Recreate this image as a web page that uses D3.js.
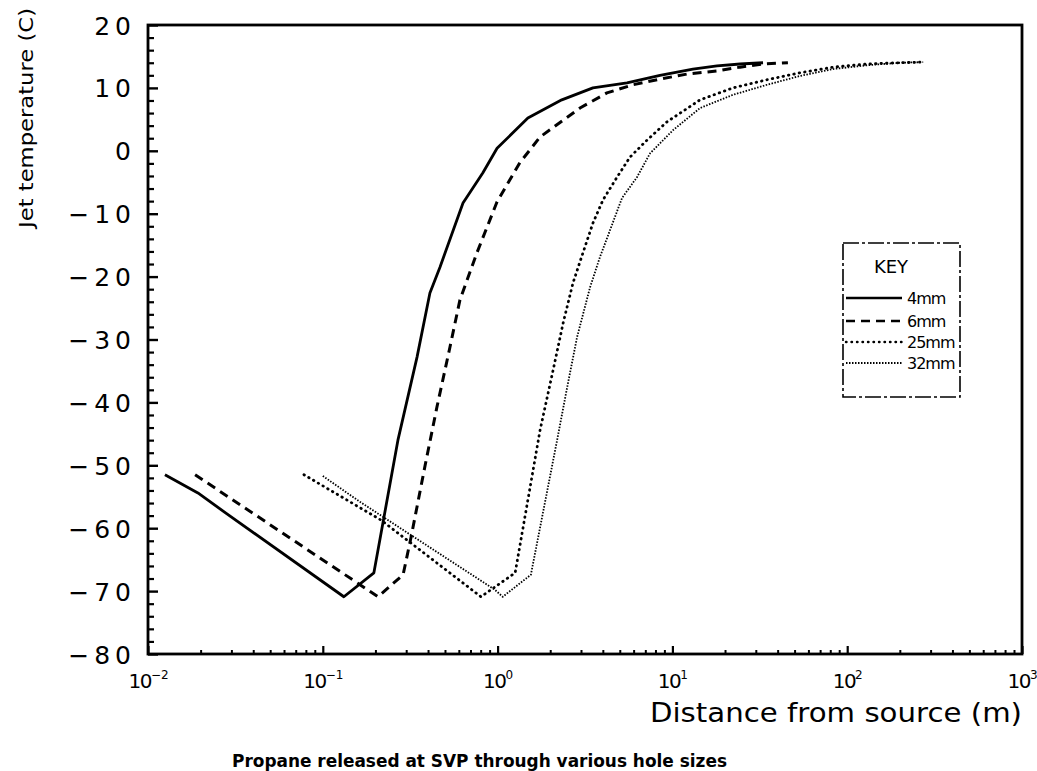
<!DOCTYPE html>
<html>
<head>
<meta charset="utf-8">
<script src="https://cdn.jsdelivr.net/npm/d3@7"></script>
<style>
  html, body { margin: 0; padding: 0; background: #fff; }
  svg { display: block; }
  text { fill: #000; font-family: "DejaVu Sans", sans-serif; }
</style>
</head>
<body>
<svg id="chart" width="1037" height="771"></svg>
<script>
// Jet temperature along the jet axis for propane at SVP, four hole sizes
const tempTicks = [20, 10, 0, -10, -20, -30, -40, -50, -60, -70, -80];
const distTicks = [0.01, 0.1, 1, 10, 100, 1000];
const distTickExponents = ["\u22122", "\u22121", "0", "1", "2", "3"];
const seriesNames = ["4mm", "6mm", "25mm", "32mm"];

const dist4mm = [0.0125, 0.0193, 0.0279, 0.132, 0.196, 0.269, 0.346, 0.410, 0.468, 0.634, 0.824, 0.993, 1.49, 2.33, 3.51, 5.50, 8.49, 13.1, 18.0, 24.4, 33.0];
const temp4mm = [-51.5, -54.4, -57.6, -70.9, -67.1, -46.0, -32.8, -22.6, -18.5, -8.3, -3.5, 0.4, 5.2, 8.1, 10.0, 10.8, 12.0, 13.0, 13.5, 13.8, 14.0];

const dist6mm = [0.0186, 0.207, 0.288, 0.320, 0.385, 0.450, 0.534, 0.609, 0.762, 0.993, 1.34, 1.75, 2.96, 4.22, 5.95, 8.49, 12.1, 18.0, 24.4, 33.0, 45.8];
const temp6mm = [-51.5, -70.9, -67.4, -61.4, -50.0, -40.7, -31.2, -23.7, -16.2, -8.1, -1.9, 2.2, 6.8, 9.2, 10.5, 11.4, 12.2, 12.7, 13.3, 13.8, 14.0];

const dist25mm = [0.078, 0.215, 0.803, 1.26, 1.75, 2.08, 2.37, 2.70, 3.08, 3.51, 4.01, 4.82, 5.72, 7.16, 9.31, 14.4, 22.2, 34.8, 53.7, 83.0, 130, 200, 272];
const temp25mm = [-51.5, -58.7, -70.9, -67.1, -44.4, -34.8, -27.4, -21.0, -16.2, -11.5, -7.8, -4.2, -1.0, 1.7, 4.6, 8.1, 10.0, 11.3, 12.4, 13.3, 13.8, 14.0, 14.1];

const dist32mm = [0.100, 0.163, 0.966, 1.07, 1.55, 2.19, 2.50, 2.85, 3.38, 3.85, 4.40, 5.15, 6.27, 7.45, 10.1, 14.4, 22.2, 34.8, 53.7, 83.0, 130, 200, 272];
const temp32mm = [-51.7, -55.8, -69.8, -70.9, -67.4, -46.0, -37.6, -29.6, -21.7, -16.9, -12.6, -7.5, -4.2, -0.4, 3.3, 6.8, 8.9, 10.5, 11.9, 13.0, 13.6, 14.0, 14.1];

const seriesDist = [dist4mm, dist6mm, dist25mm, dist32mm];
const seriesTemp = [temp4mm, temp6mm, temp25mm, temp32mm];

// line styles: solid, heavy dashes, round dots, fine dots
const lineStyles = [
  { width: 2.8, dash: null, cap: "butt" },
  { width: 3.0, dash: "9 6", cap: "butt" },
  { width: 2.8, dash: "0.5 5", cap: "round" },
  { width: 1.8, dash: "1.5 1.5", cap: "butt" }
];

const svg = d3.select("#chart");
const plot = { left: 148, right: 1022, top: 25, bottom: 654 };

const x = d3.scaleLog().domain([0.01, 1000]).range([plot.left, plot.right]);
const y = d3.scaleLinear().domain([-80, 20]).range([plot.bottom, plot.top]);

// y axis: inward ticks, wide-spaced labels on the outside
const yMinor = d3.range(-80, 21, 2).filter(v => v % 10 !== 0);
svg.append("g")
  .attr("transform", `translate(${plot.left},0)`)
  .call(d3.axisLeft(y).tickValues(yMinor).tickSizeInner(-6).tickSizeOuter(0).tickFormat(""))
  .call(g => g.select(".domain").remove())
  .call(g => g.selectAll(".tick line").attr("stroke", "#000").attr("stroke-width", 2.2));

svg.append("g")
  .attr("transform", `translate(${plot.left},0)`)
  .call(d3.axisLeft(y).tickValues(tempTicks).tickSizeInner(-10).tickSizeOuter(0).tickPadding(12)
    .tickFormat(d => d < 0 ? "\u2212" + Math.abs(d) : String(d)))
  .call(g => g.select(".domain").remove())
  .call(g => g.selectAll(".tick line").attr("stroke", "#000").attr("stroke-width", 2.4))
  .call(g => g.selectAll(".tick text")
    .attr("fill", "#000")
    .attr("font-size", 25)
    .attr("letter-spacing", "5px")
    .attr("font-family", "DejaVu Sans, sans-serif")
    .attr("dy", "0.36em"));

// x axis: log decades with inward minor ticks
const xMinor = [];
distTicks.slice(0, -1).forEach(d => { for (let k = 2; k <= 9; k++) xMinor.push(d * k); });
svg.append("g")
  .attr("transform", `translate(0,${plot.bottom})`)
  .call(d3.axisBottom(x).tickValues(xMinor).tickSizeInner(-4).tickSizeOuter(0).tickFormat(""))
  .call(g => g.select(".domain").remove())
  .call(g => g.selectAll(".tick line").attr("stroke", "#000").attr("stroke-width", 2));

const xMajor = svg.append("g")
  .attr("transform", `translate(0,${plot.bottom})`)
  .call(d3.axisBottom(x).tickValues(distTicks).tickSizeInner(-8).tickSizeOuter(0).tickFormat(""))
  .call(g => g.select(".domain").remove())
  .call(g => g.selectAll(".tick line").attr("stroke", "#000").attr("stroke-width", 2.2));

xMajor.selectAll(".tick").each(function (d, i) {
  const t = d3.select(this).append("text")
    .attr("y", 34)
    .attr("text-anchor", "middle")
    .attr("font-size", 20)
    .attr("letter-spacing", "-1.5px");
  t.append("tspan").text("10");
  t.append("tspan")
    .attr("dy", -9)
    .attr("font-size", 12)
    .attr("letter-spacing", "0px")
    .text(distTickExponents[i]);
});

// frame
svg.append("rect")
  .attr("x", plot.left).attr("y", plot.top)
  .attr("width", plot.right - plot.left).attr("height", plot.bottom - plot.top)
  .attr("fill", "none").attr("stroke", "#000").attr("stroke-width", 2.8);

// curves
const line = d3.line()
  .x(p => x(p[0]))
  .y(p => y(p[1]));

seriesNames.forEach((name, i) => {
  const pts = seriesDist[i].map((d, j) => [d, seriesTemp[i][j]]);
  const st = lineStyles[i];
  svg.append("path")
    .datum(pts)
    .attr("d", line)
    .attr("fill", "none")
    .attr("stroke", "#000")
    .attr("stroke-width", st.width)
    .attr("stroke-linecap", st.cap)
    .attr("stroke-linejoin", "round")
    .attr("stroke-dasharray", st.dash);
});

// key box
const key = { x: 843, y: 243, w: 117, h: 154 };
svg.append("rect")
  .attr("x", key.x).attr("y", key.y).attr("width", key.w).attr("height", key.h)
  .attr("fill", "#fff").attr("stroke", "#000").attr("stroke-width", 1.6)
  .attr("stroke-dasharray", "16 3 3 3");

svg.append("text")
  .attr("x", key.x + 48).attr("y", key.y + 30)
  .attr("text-anchor", "middle")
  .attr("font-size", 18)
  .text("KEY");

const keyRows = [298, 321, 342, 363];
seriesNames.forEach((name, i) => {
  const st = lineStyles[i];
  svg.append("line")
    .attr("x1", key.x + 3).attr("x2", key.x + 59)
    .attr("y1", keyRows[i]).attr("y2", keyRows[i])
    .attr("stroke", "#000")
    .attr("stroke-width", Math.min(st.width, 2.4))
    .attr("stroke-linecap", st.cap)
    .attr("stroke-dasharray", st.dash);
  svg.append("text")
    .attr("x", key.x + 64).attr("y", keyRows[i] + 6)
    .attr("font-size", 16)
    .attr("letter-spacing", "-1px")
    .text(name);
});

// axis titles and caption
svg.append("text")
  .attr("transform", "translate(33,228) rotate(-90)")
  .attr("font-size", 20)
  .attr("textLength", 220)
  .attr("lengthAdjust", "spacingAndGlyphs")
  .text("Jet temperature (C)");

svg.append("text")
  .attr("x", 650).attr("y", 722)
  .attr("font-size", 27)
  .attr("textLength", 372)
  .attr("lengthAdjust", "spacingAndGlyphs")
  .text("Distance from source (m)");

svg.append("text")
  .attr("x", 232).attr("y", 767)
  .attr("font-size", 18)
  .attr("font-weight", "bold")
  .attr("textLength", 495)
  .attr("lengthAdjust", "spacingAndGlyphs")
  .text("Propane released at SVP through various hole sizes");
</script>
</body>
</html>
